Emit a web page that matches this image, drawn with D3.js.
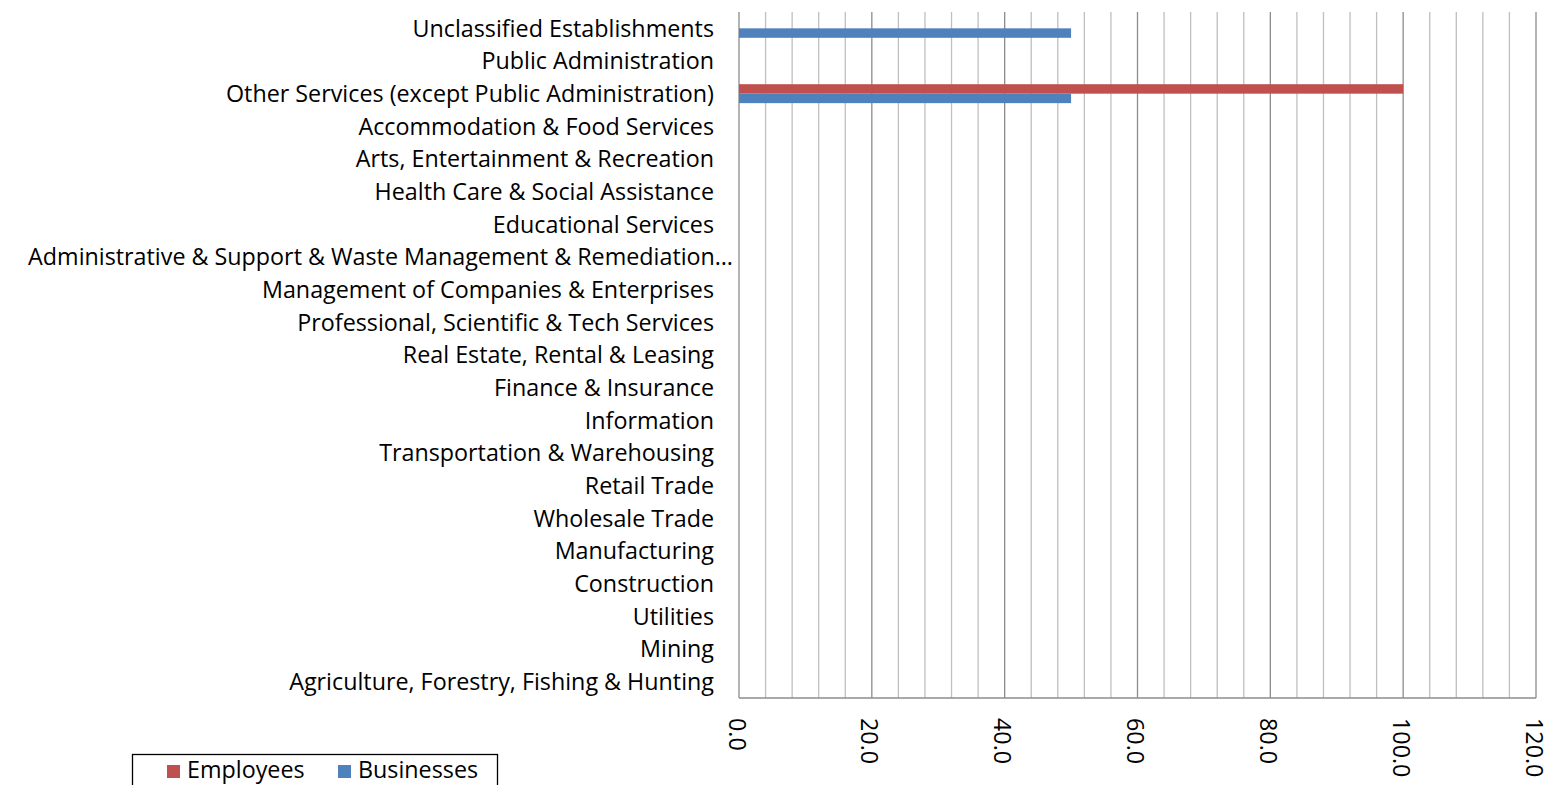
<!DOCTYPE html>
<html><head><meta charset="utf-8">
<script src="https://cdn.jsdelivr.net/npm/d3@7"></script>
<style>body{margin:0;background:#fff}svg{display:block}text{font-family:"Open Sans",Lato,sans-serif;fill:#000}</style>
</head><body>
<script>
const categories = ["Unclassified Establishments","Public Administration","Other Services (except Public Administration)","Accommodation & Food Services","Arts, Entertainment & Recreation","Health Care & Social Assistance","Educational Services","Administrative & Support & Waste Management & Remediation…","Management of Companies & Enterprises","Professional, Scientific & Tech Services","Real Estate, Rental & Leasing","Finance & Insurance","Information","Transportation & Warehousing","Retail Trade","Wholesale Trade","Manufacturing","Construction","Utilities","Mining","Agriculture, Forestry, Fishing & Hunting"];
const employees = [0,0,100,0,0,0,0,0,0,0,0,0,0,0,0,0,0,0,0,0,0];
const businesses = [50,0,50,0,0,0,0,0,0,0,0,0,0,0,0,0,0,0,0,0,0];
const seriesNames = ["Employees","Businesses"];
const seriesColors = ["#C0504D","#4F81BD"];
const majorTicks = [0,20,40,60,80,100,120];

const W=1547,H=785;
const svg=d3.select("body").append("svg").attr("width",W).attr("height",H);
const x=d3.scaleLinear().domain([0,120]).range([739,1536]);
const y=d3.scaleBand().domain(categories).range([12,698]).paddingInner(0.42).paddingOuter(0.21);
const FS=23.3;

const minor=d3.range(0,121,4);
svg.append("g").selectAll("line").data(minor).join("line")
 .attr("x1",d=>x(d)).attr("x2",d=>x(d)).attr("y1",12).attr("y2",698)
 .attr("stroke",d=>d%20===0?"#8c8c8c":"#bfbfbf").attr("stroke-width",1.3);
svg.append("line").attr("x1",x(0)).attr("x2",x(120)).attr("y1",698).attr("y2",698).attr("stroke","#8c8c8c").attr("stroke-width",1.3);

const series=[employees,businesses];
const bh=y.bandwidth()/2;
series.forEach((vals,si)=>{
  svg.append("g").selectAll("rect").data(categories.map((c,i)=>({c,v:vals[i]})).filter(d=>d.v>0)).join("rect")
   .attr("x",x(0)).attr("width",d=>x(d.v)-x(0))
   .attr("y",d=>y(d.c)+si*bh).attr("height",bh)
   .attr("fill",seriesColors[si]);
});

svg.append("g").selectAll("text").data(categories).join("text")
 .attr("x",d=>d.endsWith("…")?733:714).attr("y",d=>y(d)+y.bandwidth()/2)
 .attr("dy","0.36em").attr("text-anchor","end").attr("font-size",FS).text(d=>d);

svg.append("g").selectAll("text").data(majorTicks).join("text")
 .attr("transform",d=>`translate(${x(d)-2},718) rotate(90)`)
 .attr("dy","0.36em").attr("text-anchor","start").attr("font-size",FS).text(d=>d.toFixed(1));

const lg=svg.append("g");
lg.append("rect").attr("x",132.5).attr("y",754.5).attr("width",365).attr("height",40).attr("fill","none").attr("stroke","#000").attr("stroke-width",1.3);
const lx=[167,338];
seriesNames.forEach((n,i)=>{
  lg.append("rect").attr("x",lx[i]).attr("y",765).attr("width",13).attr("height",13).attr("fill",seriesColors[i]);
  lg.append("text").attr("x",lx[i]+20).attr("y",770).attr("dy","0.36em").attr("font-size",FS).text(n);
});
</script>
</body></html>
